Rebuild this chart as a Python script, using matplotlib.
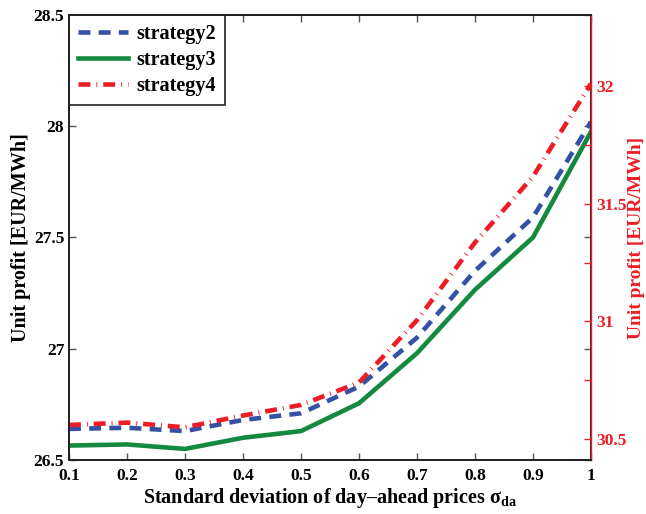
import matplotlib
matplotlib.use("Agg")
import matplotlib.pyplot as plt

plt.rcParams['font.family'] = ['Liberation Serif', 'DejaVu Serif']
plt.rcParams['font.weight'] = 'bold'
plt.rcParams['axes.labelweight'] = 'bold'
plt.rcParams['mathtext.fontset'] = 'custom'
plt.rcParams['mathtext.rm'] = 'Liberation Serif:bold'
plt.rcParams['mathtext.it'] = 'Liberation Serif:bold'
plt.rcParams['mathtext.bf'] = 'Liberation Serif:bold'

# data
sigma = [0.1, 0.2, 0.3, 0.4, 0.5, 0.6, 0.7, 0.8, 0.9, 1.0]
strategy2 = [26.64, 26.645, 26.63, 26.68, 26.71, 26.83, 27.05, 27.35, 27.59, 28.02]
strategy3 = [26.565, 26.57, 26.55, 26.60, 26.63, 26.755, 26.98, 27.265, 27.50, 27.975]
strategy4 = [30.56, 30.57, 30.55, 30.60, 30.645, 30.74, 31.005, 31.335, 31.615, 32.01]

xticks = [0.1, 0.2, 0.3, 0.4, 0.5, 0.6, 0.7, 0.8, 0.9, 1.0]
xticklabels = ['0.1', '0.2', '0.3', '0.4', '0.5', '0.6', '0.7', '0.8', '0.9', '1']
lticks = [26.5, 27, 27.5, 28, 28.5]
lticklabels = ['26.5', '27', '27.5', '28', '28.5']
rticks = [30.5, 30.75, 31, 31.25, 31.5, 31.75, 32]
rticklabels = ['30.5', '', '31', '', '31.5', '', '32']

blue = '#3451a6'
green = '#138a3e'
red = '#ee1c25'

fig = plt.figure(figsize=(6.46, 5.14), dpi=100)
ax = fig.add_axes([0.1068, 0.105, 0.808, 0.866])
ax2 = ax.twinx()

l2, = ax.plot(sigma, strategy2, color=blue, lw=3.3, linestyle=(0, (2.6, 1.8)),
              label='strategy2')
l3, = ax.plot(sigma, strategy3, color=green, lw=3.3, label='strategy3')
l4, = ax2.plot(sigma, strategy4, color=red, lw=3.3, linestyle=(0, (2.6, 1.3, 0.2, 1.3)),
               label='strategy4')

ax.set_xlim(0.1, 1.0)
ax.set_ylim(26.5, 28.5)
ax2.set_ylim(30.411, 32.302)

ax.set_xticks(xticks)
ax.set_xticklabels(xticklabels)
ax.set_yticks(lticks)
ax.set_yticklabels(lticklabels)
ax2.set_yticks(rticks)
ax2.set_yticklabels(rticklabels)

ax.tick_params(axis='both', direction='in', labelsize=12.5, length=5, width=1,
               color='#555555', top=True)
ax.tick_params(axis='x', pad=6)
ax.tick_params(axis='y', right=True)
ax2.tick_params(axis='y', direction='in', labelsize=12.5, length=5, width=1,
                colors=red, pad=4)

for s in ax.spines.values():
    s.set_linewidth(1.4)
    s.set_color('#222222')
for s in ax2.spines.values():
    s.set_linewidth(1.4)
    s.set_color('#222222')
ax2.spines['right'].set_color(red)
ax2.spines['right'].set_linewidth(1.0)

ax.set_xlabel('Standard deviation of day\u2013ahead prices \u03c3$_{\\mathrm{da}}$',
              fontsize=14.5, labelpad=1)
ax.set_ylabel('Unit profit [EUR/MWh]', fontsize=14.5, labelpad=2)
ax2.set_ylabel('Unit profit [EUR/MWh]', fontsize=14, color=red, labelpad=1)

leg = ax.legend(handles=[l2, l3, l4], loc='upper left', bbox_to_anchor=(0, 1),
                fontsize=14.5, fancybox=False, edgecolor='#222222', framealpha=1,
                handlelength=2.5, borderaxespad=0, labelspacing=0.3,
                handletextpad=0.4, borderpad=0.45)
leg.get_frame().set_linewidth(1.2)

fig.savefig('out.png', dpi=100)
